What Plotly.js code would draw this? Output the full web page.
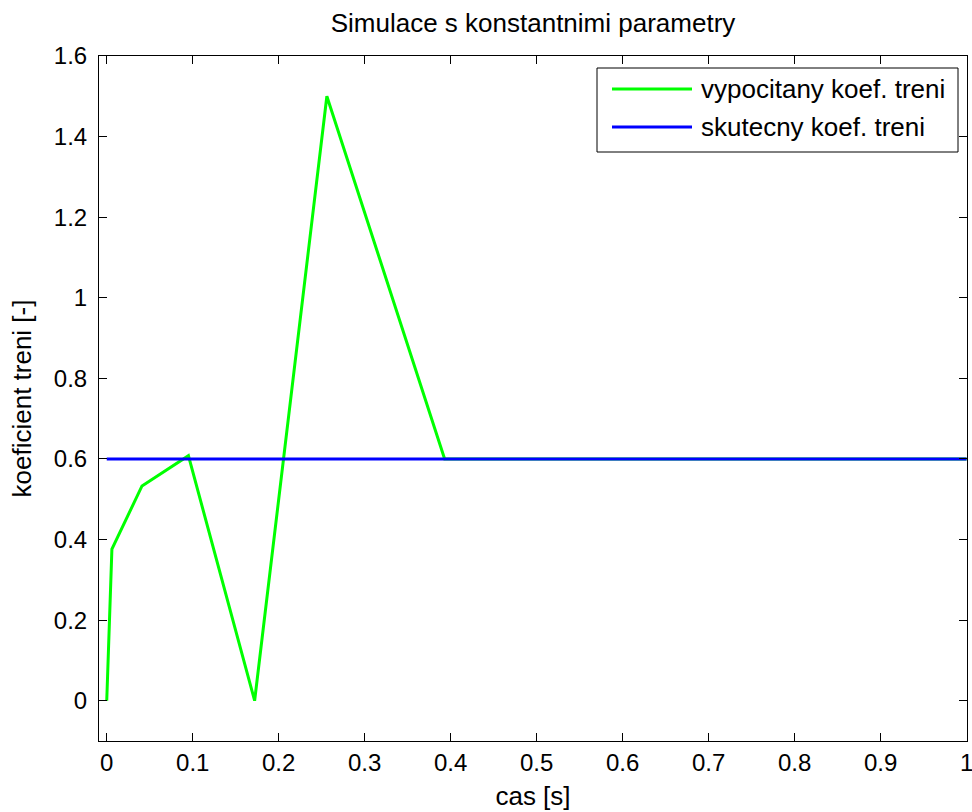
<!DOCTYPE html>
<html>
<head>
<meta charset="utf-8">
<script src="https://cdn.plot.ly/plotly-3.0.1.min.js"></script>
<style>html,body{margin:0;padding:0;background:#fff;}#chart{width:972px;height:812px;}</style>
</head>
<body>
<div id="chart"></div>
<script>
// Data
var timeCalc = [0, 0.006, 0.041, 0.095, 0.172, 0.256, 0.393, 1.0];
var muCalc   = [0, 0.376, 0.533, 0.608, 0.0, 1.5, 0.6, 0.6];
var timeReal = [0, 1.0];
var muReal   = [0.6, 0.6];
var seriesNames = ['vypocitany koef. treni', 'skutecny koef. treni'];
var seriesColors = ['#00FF00', '#0000FF'];
var xTicks = [0, 0.1, 0.2, 0.3, 0.4, 0.5, 0.6, 0.7, 0.8, 0.9, 1];
var xTickText = ['0', '0.1', '0.2', '0.3', '0.4', '0.5', '0.6', '0.7', '0.8', '0.9', '1'];
var yTicks = [0, 0.2, 0.4, 0.6, 0.8, 1, 1.2, 1.4, 1.6];
var yTickText = ['0', '0.2', '0.4', '0.6', '0.8', '1', '1.2', '1.4', '1.6'];

var FONT = 'Liberation Sans, Arial, sans-serif';

var traces = [
  {x: timeCalc, y: muCalc, type: 'scatter', mode: 'lines',
   name: seriesNames[0], line: {color: seriesColors[0], width: 3}},
  {x: timeReal, y: muReal, type: 'scatter', mode: 'lines',
   name: seriesNames[1], line: {color: seriesColors[1], width: 3}}
];

var axisCommon = {
  showline: true, linecolor: '#000', linewidth: 1, mirror: 'ticks',
  ticks: 'inside', ticklen: 8, tickwidth: 1, tickcolor: '#000',
  showgrid: false, zeroline: false, ticklabeloverflow: 'allow',
  tickfont: {family: FONT, size: 24, color: '#000'}
};

// Legend box drawn in paper coordinates (plot area: 99..967 px wide, 56..741 px tall)
var W = 868, H = 685, L = 99, B = 741;
function px(xp) { return (xp - L) / W; }
function py(yp) { return (B - yp) / H; }
var legRowY = [89, 127];

var shapes = [
  {type: 'rect', xref: 'paper', yref: 'paper',
   x0: px(597), x1: px(958), y0: py(152), y1: py(68),
   fillcolor: '#fff', line: {color: '#000', width: 1}, layer: 'above'}
];
var annotations = [];
for (var i = 0; i < seriesNames.length; i++) {
  shapes.push({type: 'line', xref: 'paper', yref: 'paper',
    x0: px(612), x1: px(692), y0: py(legRowY[i]), y1: py(legRowY[i]),
    line: {color: seriesColors[i], width: 3}, layer: 'above'});
  annotations.push({xref: 'paper', yref: 'paper', x: px(699), y: py(legRowY[i]),
    xanchor: 'left', yanchor: 'middle', showarrow: false, text: seriesNames[i],
    font: {family: FONT, size: 26, color: '#000'}});
}

var layout = {
  width: 972, height: 812,
  paper_bgcolor: '#fff', plot_bgcolor: '#fff',
  margin: {l: 99, r: 5, t: 56, b: 71, pad: 0},
  font: {family: FONT, size: 26, color: '#000'},
  title: {text: 'Simulace s konstantnimi parametry', x: 0.5, xref: 'paper',
          y: 1 - 23/812, yref: 'container', yanchor: 'middle',
          font: {family: FONT, size: 26, color: '#000'}},
  xaxis: Object.assign({}, axisCommon, {
    range: [-0.009, 1.0005], tickmode: 'array', tickvals: xTicks, ticktext: xTickText,
    title: {text: 'cas [s]', standoff: 12, font: {family: FONT, size: 26, color: '#000'}}
  }),
  yaxis: Object.assign({}, axisCommon, {
    range: [-0.1, 1.6], tickmode: 'array', tickvals: yTicks, ticktext: yTickText,
    ticklabelstandoff: 6,
    title: {text: 'koeficient treni [-]', standoff: 14, font: {family: FONT, size: 26, color: '#000'}}
  }),
  showlegend: false,
  shapes: shapes,
  annotations: annotations
};

Plotly.newPlot('chart', traces, layout, {displayModeBar: false, staticPlot: true});
</script>
</body>
</html>
